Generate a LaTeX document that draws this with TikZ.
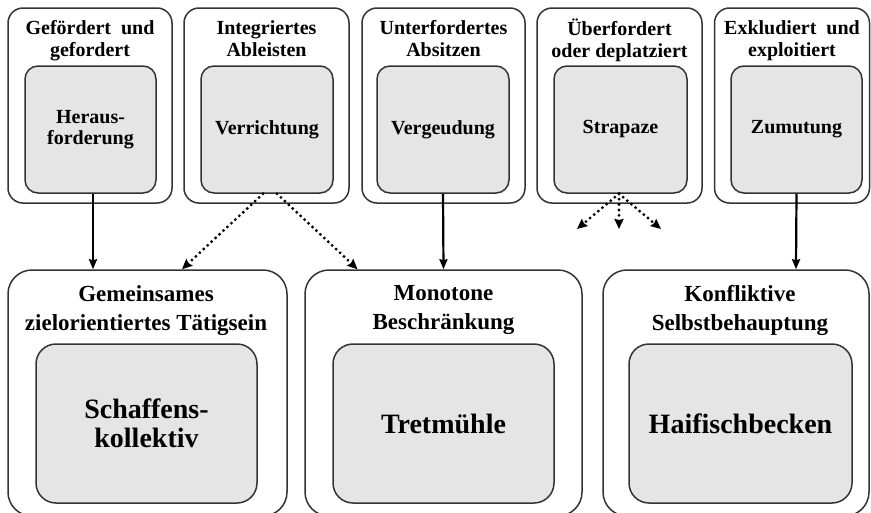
\documentclass[tikz,border=0pt]{standalone}
\usepackage{fontspec}
\setmainfont{Liberation Serif}
\usetikzlibrary{arrows.meta,calc}
% fixed-size strut so every heading line has the same height and depth
\newcommand{\hdstrut}{\rule[-0.25em]{0pt}{0.8em}}
\begin{document}
\begin{tikzpicture}[x=1pt,y=-1pt,
  frame/.style={draw=black!80,line width=1.5pt,rounded corners=15pt,inner sep=0pt},
  bigframe/.style={draw=black!80,line width=1.5pt,rounded corners=24pt,inner sep=0pt},
  core/.style={draw=black!80,fill=black!10,line width=1.5pt,rounded corners=13pt,
    inner sep=0pt,align=center,font=\fontsize{20}{21.5}\selectfont\bfseries},
  bigcore/.style={draw=black!80,fill=black!10,line width=1.5pt,rounded corners=20pt,
    inner sep=0pt,align=center,font=\fontsize{28}{29.5}\selectfont\bfseries},
  title/.style={align=center,inner sep=0pt,font=\fontsize{20}{21.5}\selectfont\bfseries},
  bigtitle/.style={align=center,inner sep=0pt,font=\fontsize{23}{29}\selectfont\bfseries},
  solidarrow/.style={line width=2.2pt,-{Stealth[length=10pt,width=8pt,inset=1pt]}},
  dotarrow/.style={line width=3.2pt,line cap=round,dash pattern=on 0pt off 5.4pt,
    -{Stealth[length=10pt,width=9pt,inset=1pt,line cap=butt]}},
]
\clip (0,0) rectangle (871,512);
\useasboundingbox (0,0) rectangle (871,512);

% upper row: outer frames
\node[frame,minimum width=164pt,minimum height=195pt] (f1) at (90,105.5) {};
\node[frame,minimum width=165pt,minimum height=195pt] (f2) at (266.5,105.5) {};
\node[frame,minimum width=163pt,minimum height=195pt] (f3) at (443.5,105.5) {};
\node[frame,minimum width=165pt,minimum height=195pt] (f4) at (619.5,105.5) {};
\node[frame,minimum width=155pt,minimum height=195pt] (f5) at (792,105.5) {};

% upper row: headings
\node[title] (t1) at (90,41) {\hdstrut Gefördert\ \ und\\\hdstrut gefordert};
\node[title] (t2) at (266.5,41) {\hdstrut Integriertes\\\hdstrut Ableisten};
\node[title] (t3) at (443.5,41) {\hdstrut Unterfordertes\\\hdstrut Absitzen};
\node[title] (t4) at (619.5,40.5) {\hdstrut Überfordert\\\hdstrut oder deplatziert};
\node[title] (t5) at (792,41) {\hdstrut Exkludiert\ \ und\\\hdstrut exploitiert};

% upper row: inner boxes
\node[core,minimum width=131pt,minimum height=127pt] (c1) at (90.5,129.5) {Heraus-\\forderung};
\node[core,minimum width=132pt,minimum height=127pt] (c2) at (267,129.5) {Verrichtung};
\node[core,minimum width=132pt,minimum height=127pt] (c3) at (443,129.5) {Vergeudung};
\node[core,minimum width=133pt,minimum height=127pt] (c4) at (620.5,129.5) {Strapaze};
\node[core,minimum width=131pt,minimum height=127pt] (c5) at (796.5,129.5) {Zumutung};

% lower row: outer frames
\node[bigframe,minimum width=279pt,minimum height=246pt] (g1) at (147.5,393) {};
\node[bigframe,minimum width=277pt,minimum height=246pt] (g2) at (443.5,393) {};
\node[bigframe,minimum width=266pt,minimum height=246pt] (g3) at (736,393) {};

% lower row: headings
\node[bigtitle] (b1) at (146,310.5) {\hdstrut Gemeinsames\\\hdstrut zielorientiertes\ Tätigsein};
\node[bigtitle] (b2) at (443.5,310.5) {\hdstrut Monotone\\\hdstrut Beschränkung};
\node[bigtitle] (b3) at (740,310.5) {\hdstrut Konfliktive\\\hdstrut Selbstbehauptung};

% lower row: inner boxes
\node[bigcore,minimum width=221pt,minimum height=159pt] (k1) at (146.5,423.5) {Schaffens-\\kollektiv};
\node[bigcore,minimum width=221pt,minimum height=159pt] (k2) at (443.5,423.5) {Tretmühle};
\node[bigcore,minimum width=223pt,minimum height=159pt] (k3) at (740.5,423.5) {Haifischbecken};

% loose ends of the fanning arrows
\coordinate (s1) at (577,229);
\coordinate (s2) at (619,229);
\coordinate (s3) at (661,229);

% connectors
\draw[solidarrow] ($(c1.south)+(2.5,0)$) -- ($(g1.north)+(-54.5,0)$);
\draw[solidarrow] (c3.south) -- (g2.north);
\draw[solidarrow] (c5.south) -- ($(g3.north)+(60,0)$);
\draw[dotarrow] ($(c2.south)+(-4,0)$) -- ($(g1.north)+(34.5,0)$);
\draw[dotarrow] ($(c2.south)+(10,0)$) -- ($(g2.north)+(-86,0)$);
\draw[dotarrow] ($(c4.south)+(-1.5,0)$) -- (s1);
\draw[dotarrow] ($(c4.south)+(-1.5,0)$) -- (s2);
\draw[dotarrow] ($(c4.south)+(-1.5,0)$) -- (s3);
\end{tikzpicture}
\end{document}
